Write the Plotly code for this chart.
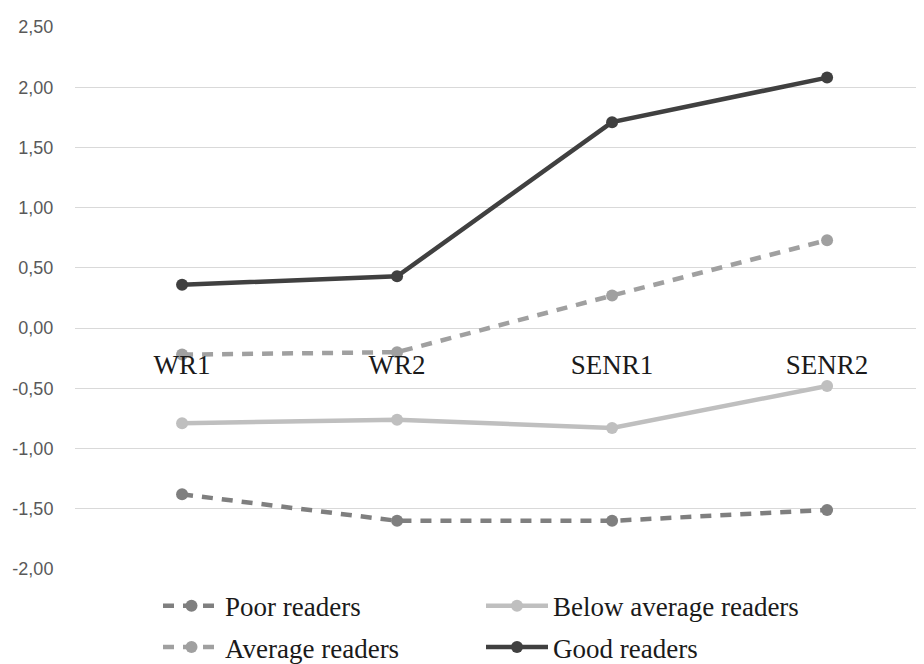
import plotly.graph_objects as go

categories = ["WR1", "WR2", "SENR1", "SENR2"]
poor = [-1.38, -1.60, -1.60, -1.51]
below_avg = [-0.79, -0.76, -0.83, -0.48]
average = [-0.22, -0.20, 0.27, 0.73]
good = [0.36, 0.43, 1.71, 2.08]
y_ticks = [-2.0, -1.5, -1.0, -0.5, 0.0, 0.5, 1.0, 1.5, 2.0, 2.5]
y_tick_labels = ["-2,00", "-1,50", "-1,00", "-0,50", "0,00", "0,50", "1,00", "1,50", "2,00", "2,50"]

serif = "Liberation Serif, Times New Roman, serif"

# (name, values, colour, dash, legend id, legend x, legend y, symbol width)
series = [
    ("Poor readers", poor, "#7f7f7f", "11px,9px", "legend", 150 / 924, 0.099, 57),
    ("Below average readers", below_avg, "#bfbfbf", "solid", "legend2", 473 / 924, 0.099, 62),
    ("Average readers", average, "#a0a0a0", "11px,9px", "legend3", 150 / 924, 0.037, 57),
    ("Good readers", good, "#404040", "solid", "legend4", 473 / 924, 0.037, 62),
]

fig = go.Figure()
legends = {}
for name, vals, col, dash, leg, lx, ly, iw in series:
    fig.add_trace(go.Scatter(
        x=categories, y=vals, name=name, mode="lines+markers",
        line=dict(color=col, width=4.5, dash=dash),
        marker=dict(color=col, size=12),
        legend=leg,
    ))
    legends[leg] = dict(
        orientation="h", xref="container", yref="container",
        x=lx, y=ly, xanchor="left", yanchor="middle",
        itemwidth=iw,
        font=dict(family=serif, size=27, color="#1a1a1a"),
        bgcolor="rgba(0,0,0,0)",
    )

fig.update_layout(
    width=924, height=664,
    margin=dict(l=67, r=0, t=19, b=103, autoexpand=False),
    paper_bgcolor="white", plot_bgcolor="white",
    font=dict(family=serif, size=27, color="#1a1a1a"),
    showlegend=True,
    **legends,
)
fig.update_xaxes(
    type="category", range=[-0.498, 3.488], anchor="free", position=2.0 / 4.5,
    showgrid=False, showline=False, zeroline=False,
    ticks="outside", ticklen=12, tickcolor="rgba(0,0,0,0)",
    tickfont=dict(family=serif, size=27, color="#1a1a1a"),
)
fig.update_yaxes(
    range=[-2.0, 2.5], tickvals=y_ticks, ticktext=y_tick_labels,
    showgrid=True, gridcolor="#d9d9d9", gridwidth=1.3,
    zeroline=False, showline=False,
    ticks="outside", ticklen=17, tickcolor="rgba(0,0,0,0)",
    tickfont=dict(family="Liberation Sans, Arial, sans-serif", size=18, color="#595959"),
)

fig.write_html("out.html")
